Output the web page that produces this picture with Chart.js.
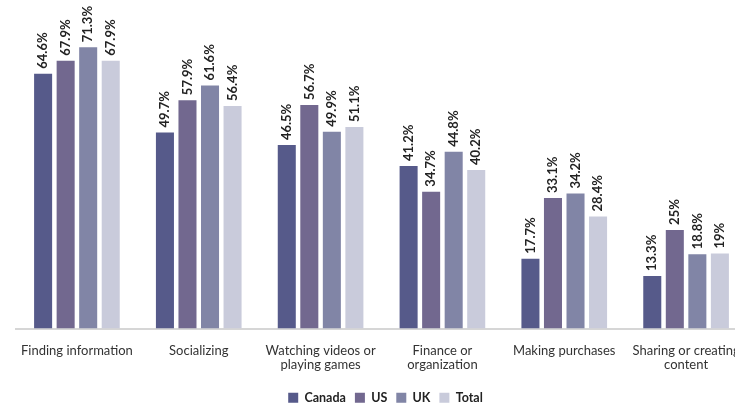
<!DOCTYPE html>
<html>
<head>
<meta charset="utf-8">
<script src="https://cdn.jsdelivr.net/npm/chart.js@4"></script>
<style>
html,body{margin:0;padding:0;overflow:hidden;background:#fff;}
#wrap{width:772px;height:409px;position:relative;}
</style>
</head>
<body>
<div id="wrap"><canvas id="c"></canvas></div>
<script>
const categories = [
  "Finding information",
  "Socializing",
  ["Watching videos or", "playing games"],
  ["Finance or", "organization"],
  "Making purchases",
  ["Sharing or creating", "content"]
];
const seriesNames = ["Canada", "US", "UK", "Total"];
const canada = [64.6, 49.7, 46.5, 41.2, 17.7, 13.3];
const us = [67.9, 57.9, 56.7, 34.7, 33.1, 25];
const uk = [71.3, 61.6, 49.9, 44.8, 34.2, 18.8];
const total = [67.9, 56.4, 51.1, 40.2, 28.4, 19];
const colors = ["#565a8a", "#72688f", "#8185a6", "#c9cbdb"];

const FONT = "Lato, 'Noto Sans', sans-serif";

const labelPlugin = {
  id: 'barLabels',
  afterLayout(chart) {
    if (chart.legend) {
      chart.legend.top += 5; chart.legend.bottom += 5;
      chart.legend.left += 4; chart.legend.right += 4;
    }
  },
  afterDatasetsDraw(chart) {
    const ctx = chart.ctx;
    ctx.save();
    ctx.font = "bold 13px " + FONT;
    ctx.fillStyle = "#222";
    ctx.textAlign = "left";
    ctx.textBaseline = "middle";
    chart.data.datasets.forEach((ds, i) => {
      const meta = chart.getDatasetMeta(i);
      meta.data.forEach((bar, j) => {
        ctx.save();
        ctx.translate(bar.x, bar.y - 5);
        ctx.rotate(-Math.PI / 2);
        ctx.fillText(String(ds.data[j]) + "%", 0, 0);
        ctx.restore();
      });
    });
    ctx.restore();
  }
};

const data = {
  labels: categories,
  datasets: [canada, us, uk, total].map((d, i) => ({
    label: seriesNames[i],
    data: d,
    backgroundColor: colors[i],
    categoryPercentage: 0.74,
    barPercentage: 0.8
  }))
};

new Chart(document.getElementById('c'), {
  type: 'bar',
  data,
  options: {
    responsive: true,
    maintainAspectRatio: false,
    animation: false,
    layout: { padding: { left: 16, right: 25, top: 13, bottom: 0 } },
    plugins: {
      tooltip: { enabled: false },
      legend: {
        position: 'bottom',
        labels: {
          boxWidth: 10, boxHeight: 10, padding: 9,
          color: "#222",
          font: { family: FONT, size: 12.5, weight: 'bold' }
        }
      }
    },
    scales: {
      x: {
        grid: { display: false },
        border: { display: true, color: "#d6d6d6", width: 2 },
        ticks: { color: "#333", font: { family: FONT, size: 13, lineHeight: 1.1 }, padding: 7, maxRotation: 0, autoSkip: false },
        afterFit(scale) { scale.height = 49; }
      },
      y: { display: false, min: 0, max: 80 }
    }
  },
  plugins: [labelPlugin]
});
</script>
</body>
</html>
